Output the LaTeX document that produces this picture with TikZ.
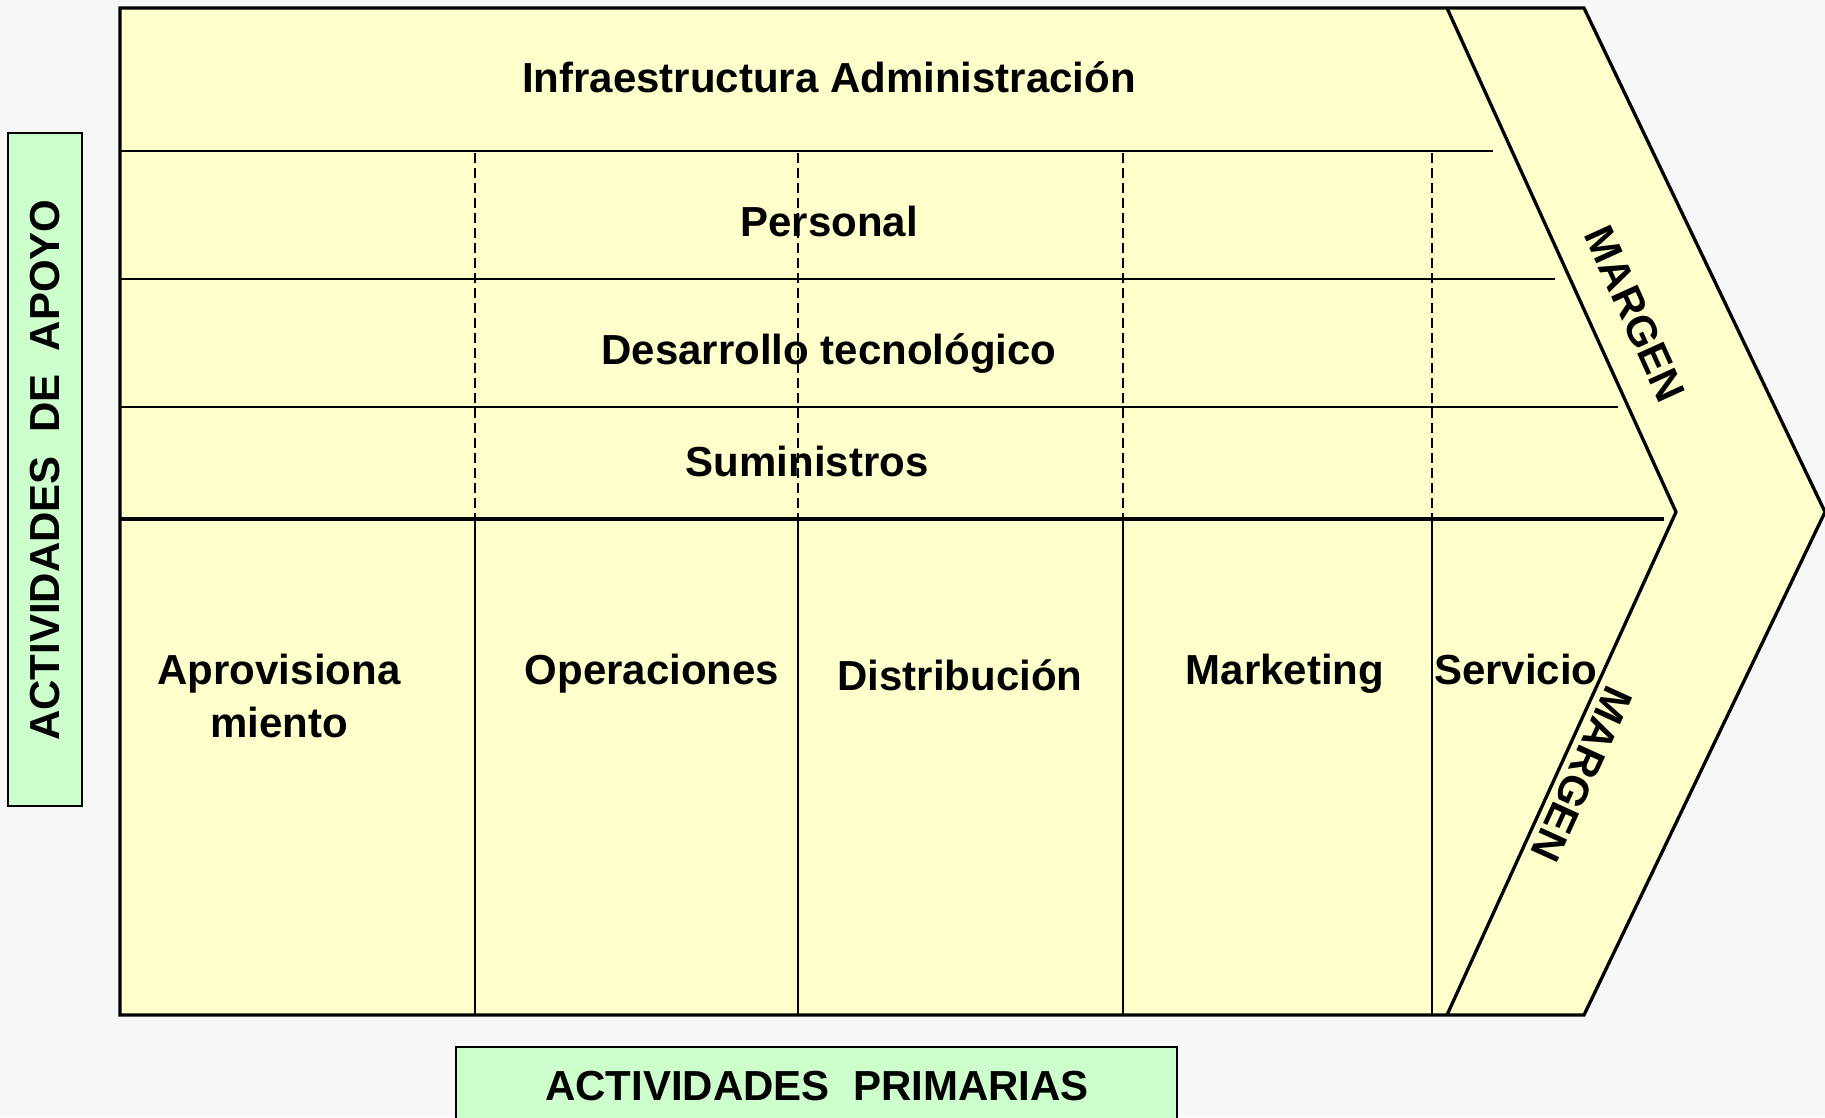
\documentclass[tikz,border=0pt]{standalone}
\usepackage{fontspec}
\setmainfont{Liberation Sans}
\definecolor{bgc}{HTML}{F7F7F7}
\definecolor{yel}{HTML}{FFFFCC}
\definecolor{grn}{HTML}{CCFFCC}
\begin{document}
\begin{tikzpicture}[x=1pt,y=-1pt,
  lbl/.style={font=\fontsize{42}{53}\selectfont\bfseries, inner sep=0pt},
  thin/.style={line width=2.2pt},
  thick/.style={line width=3.3pt},
  dsh/.style={line width=2pt, dash pattern=on 10pt off 5pt}]
\useasboundingbox (0,0) rectangle (1825,1117);
\fill[bgc] (0,0) rectangle (1825,1117);
% chevron body
\filldraw[fill=yel, thick, line join=miter] (120,8) -- (1584,8) -- (1825,512) -- (1584,1015) -- (120,1015) -- cycle;
\draw[thick, line join=miter] (1447,8) -- (1676,512) -- (1447,1015);
% horizontal lines
\draw[thin] (120,151) -- (1493,151);
\draw[thin] (120,279) -- (1555,279);
\draw[thin] (120,407) -- (1618,407);
\draw[thick] (120,519) -- (1664,519);
% vertical lines
\foreach \xx in {475,798,1123,1432}{
  \draw[dsh] (\xx,153) -- (\xx,519);
  \draw[thin] (\xx,519) -- (\xx,1015);
}
% support texts
\node[lbl, anchor=base] (infra) at (829,92) {Infraestructura Administración};
\node[lbl, anchor=base] (pers) at (829,236) {Personal};
\node[lbl, anchor=base] (desa) at (829,364) {Desarrollo tecnológico};
\node[lbl, anchor=base] (sumi) at (807,476) {Suministros};
% primary texts
\node[lbl, anchor=base] (apro1) at (279,684) {Aprovisiona};
\node[lbl, anchor=base] (apro2) at (279,737) {miento};
\node[lbl, anchor=base] (oper) at (652,684) {Operaciones};
\node[lbl, anchor=base] (dist) at (960,690) {Distribución};
\node[lbl, anchor=base] (mark) at (1285,684) {Marketing};
\node[lbl, anchor=base west] (serv) at (1434,684) {Servicio};
% margin texts
\node[lbl, rotate=-65.6] (marg1) at (1635,314) {MARGEN};
\node[lbl, rotate=-114.5] (marg2) at (1582,774) {MARGEN};
% green labels
\filldraw[fill=grn, thin] (8,133) rectangle (82,806);
\node[lbl, rotate=90] (apoyo) at (45,470) {ACTIVIDADES\ \ DE\ \ APOYO};
\filldraw[fill=grn, thin] (456,1047) rectangle (1177,1125);
\node[lbl, anchor=base] (prim) at (817,1100) {ACTIVIDADES\ \ PRIMARIAS};
\end{tikzpicture}
\end{document}
